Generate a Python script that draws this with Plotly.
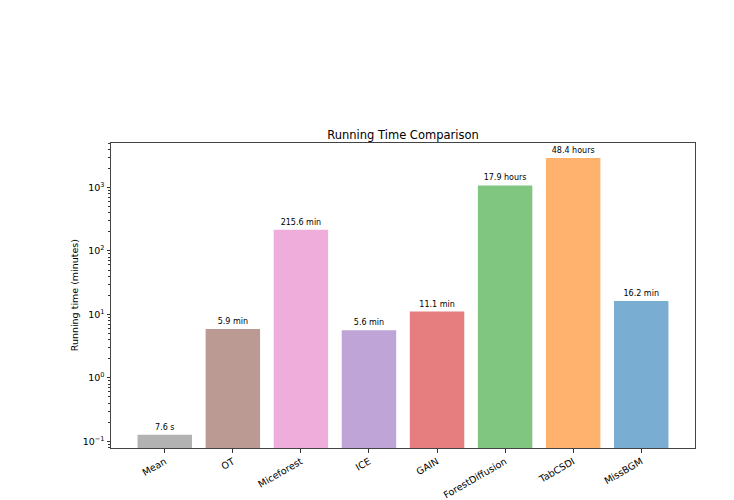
import plotly.graph_objects as go

methods = ["Mean", "OT", "Miceforest", "ICE", "GAIN", "ForestDiffusion", "TabCSDI", "MissBGM"]
minutes = [7.6 / 60, 5.9, 215.6, 5.6, 11.1, 17.9 * 60, 48.4 * 60, 16.2]
labels = ["7.6 s", "5.9 min", "215.6 min", "5.6 min", "11.1 min", "17.9 hours", "48.4 hours", "16.2 min"]
colors = ["rgba(127,127,127,0.6)", "rgba(140,86,75,0.6)", "rgba(227,119,194,0.6)",
          "rgba(148,103,189,0.6)", "rgba(214,39,40,0.6)", "rgba(44,160,44,0.6)",
          "rgba(255,127,14,0.6)", "rgba(31,119,180,0.6)"]
ytickvals = [0.1, 1, 10, 100, 1000]
yticktext = ["10<sup>−1</sup>", "10<sup>0</sup>", "10<sup>1</sup>", "10<sup>2</sup>", "10<sup>3</sup>"]
minor_ticks = [m * 10 ** e for e in range(-2, 4) for m in range(2, 10)]

font = "DejaVu Sans"
fig = go.Figure(go.Bar(
    x=methods, y=minutes, text=labels, textposition="outside",
    textfont=dict(family=font, size=8, color="black"),
    marker=dict(color=colors, line=dict(width=0)),
    width=0.8, cliponaxis=False,
))
fig.update_layout(
    width=734, height=500,
    margin=dict(l=111, r=39, t=143, b=52),
    paper_bgcolor="white", plot_bgcolor="white",
    font=dict(family=font, size=9.5, color="black"),
    title=dict(text="Running Time Comparison", x=0.5, xanchor="center",
               xref="paper", y=1, yref="paper", yanchor="bottom",
               pad=dict(b=4), font=dict(size=11.5, family=font, color="black")),
    showlegend=False, bargap=0.2,
    annotations=[dict(text="Running time (minutes)", textangle=-90,
                      xref="paper", yref="paper", x=-0.062, y=0.5,
                      xanchor="center", yanchor="middle", showarrow=False,
                      font=dict(size=9.5, family=font, color="black"))],
)
fig.update_xaxes(
    range=[-0.79, 7.79], tickangle=-30, ticks="outside", ticklen=3.5, tickcolor="#333",
    showline=True, linecolor="#444", linewidth=1, mirror=True, showgrid=False,
    tickfont=dict(size=9.5, family=font), automargin=False,
)
fig.update_yaxes(
    type="log", range=[-1.105, 3.70], tickvals=ytickvals, ticktext=yticktext,
    ticks="outside", ticklen=3.5, tickcolor="#333",
    minor=dict(ticks="outside", ticklen=2, tickcolor="#333", showgrid=False,
               tickvals=minor_ticks),
    showline=True, linecolor="#444", linewidth=1, mirror=True, showgrid=False,
    zeroline=False, tickfont=dict(size=9.5, family=font), automargin=False,
)
fig.write_html("out.html")
